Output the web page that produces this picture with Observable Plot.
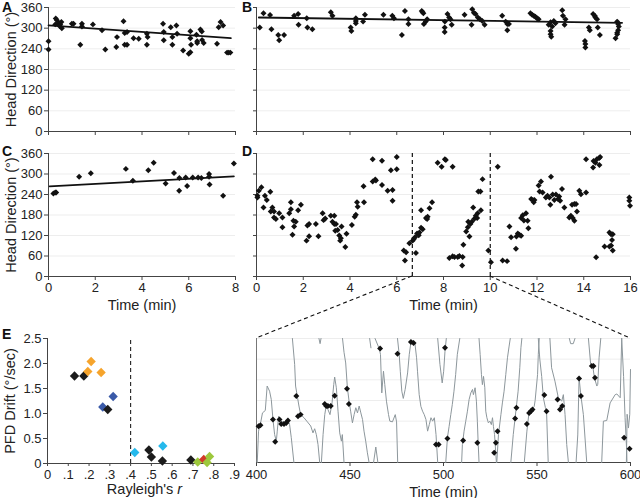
<!DOCTYPE html>
<html><head><meta charset="utf-8">
<script src="https://cdn.jsdelivr.net/npm/d3@7"></script>
<script src="https://cdn.jsdelivr.net/npm/@observablehq/plot@0.6"></script>
<style>
body{margin:0;background:#fff;}
#root{position:relative;width:640px;height:498px;overflow:hidden;font-family:"Liberation Sans",Arial,sans-serif;}
#root svg{position:absolute;overflow:visible;}
</style></head><body><div id="root"></div>
<script>
// ---------- DATA ----------
// Panel A (time min, head direction deg)
const aTime = [0,0,0.31,0.36,0.43,0.5,0.47,0.57,0.29,0.55,1.0,1.07,1.36,1.43,1.43,1.9,2.29,2.43,2.9,2.93,3.21,3.26,3.36,3.26,3.36,3.64,3.86,4.21,4.24,4.21,4.9,4.93,4.93,5.23,5.3,5.3,5.47,5.5,5.76,6.0,6.07,6.07,6.07,6.1,6.33,6.36,6.36,6.5,6.56,6.57,6.64,7.21,7.28,7.36,7.47,7.64,7.78,7.71];
const aDir  = [262,238,328,323,315,311,306,300,311,318,313,313,252,313,305,311,294,238,245,274,320,286,289,252,252,271,269,284,274,252,313,289,265,303,274,252,308,284,235,226,230,291,271,252,281,257,262,296,290,266,257,255,303,318,308,229,229,229];
const aFitT = [0, 7.8], aFitV = [308, 271];
// Panel B
const bTime = [0.14,0.3,0.58,0.64,0.93,0.97,1.18,1.61,1.78,1.8,2.15,2.18,2.39,3.18,3.25,4.03,4.06,4.25,4.25,4.25,4.56,4.64,5.43,5.81,5.88,6.22,6.35,6.5,6.5,7.07,7.14,7.1,7.16,7.24,7.3,8.06,8.05,8.05,8.17,8.24,8.3,8.35,8.9,9.2,9.23,9.3,9.37,9.47,9.56,9.66,9.76,10.51,10.66,10.73,10.8,10.73,11.72,11.79,11.86,11.93,12.0,12.07,12.5,12.58,12.65,12.72,12.79,12.58,12.58,12.61,13.08,13.11,13.22,13.18,14.05,14.07,14.07,14.22,14.26,14.4,14.47,14.5,14.57,14.6,14.69,15.36,15.43,15.47,15.5,15.47,15.43,15.43];
const bDir  = [302,343,338,297,280,265,280,336,341,310,329,302,297,346,336,302,292,329,321,314,319,339,339,336,329,280,350,326,312,350,343,347,312,319,326,319,302,289,341,331,326,310,339,310,355,345,341,331,326,321,310,336,319,312,312,294,343,339,336,333,329,326,310,317,305,321,314,292,282,275,352,336,326,310,263,254,244,302,294,341,336,331,326,302,280,271,319,312,305,294,287,282];
const bFitT = [0.1, 15.64], bFitV = [331, 315.5];
// Panel C
const cTime = [0.21,0.29,0.33,1.31,1.81,3.31,3.61,4.27,4.5,5.01,5.37,5.6,5.59,5.87,5.93,6.17,6.4,6.54,6.87,6.87,6.89,7.47,7.93];
const cDir  = [243,246,246,292,302,315,280,311,333,272,303,288,251,290,265,290,290,288,300,292,269,236,331];
const cFitT = [0.05, 7.93], cFitV = [264, 293];
// Panel D
const dTime = [0.04,0.04,0.1,0.21,0.3,0.36,0.44,0.59,0.61,0.68,0.75,0.75,0.83,0.97,1.11,1.11,1.4,1.47,1.47,1.54,1.58,1.61,1.68,1.78,1.9,2.14,2.18,2.25,2.25,2.54,2.65,2.83,2.87,2.94,3.18,3.33,3.25,3.33,3.4,3.37,3.47,3.54,3.58,3.61,3.64,3.8,3.85,4.08,4.2,4.25,4.3,4.33,4.6,4.58,4.97,4.97,5.08,5.11,5.37,5.37,5.61,5.82,5.82,5.75,6.0,6.0,6.3,6.35,6.4,6.54,6.68,6.73,6.78,6.82,6.87,6.94,6.97,7.04,7.11,7.04,7.25,7.3,7.32,7.4,7.51,7.75,7.92,8.06,8.1,8.39,8.25,8.39,8.47,8.61,8.68,8.8,8.82,8.85,8.97,9.04,9.11,9.06,9.15,9.21,9.27,9.32,9.38,9.44,9.46,9.49,9.58,9.6,9.67,9.92,10.03,10.32,10.53,10.72,10.82,10.89,11.1,11.12,11.18,11.25,11.32,11.32,11.39,11.44,11.53,11.6,11.63,11.75,11.82,11.89,11.86,12.07,12.17,12.11,12.24,12.6,12.38,12.45,12.53,12.57,12.74,12.67,12.81,12.95,12.9,12.99,13.07,13.17,13.38,13.45,13.53,13.6,13.5,13.6,13.67,13.71,13.81,13.88,14.1,14.1,14.4,14.42,14.56,14.66,14.7,14.5,14.67,14.53,14.89,15.1,15.17,15.24,15.1,15.17,15.24,15.21,15.95,15.95,15.98];
const dDir  = [236,231,251,261,202,236,224,248,190,202,190,173,168,185,173,144,185,217,197,122,163,146,160,194,210,105,149,154,118,154,118,185,165,170,178,178,160,154,154,134,136,120,105,112,146,86,125,151,175,181,217,204,217,264,278,343,284,281,339,268,251,253,222,311,350,314,76,47,71,97,105,110,115,69,126,121,129,143,138,194,171,168,175,200,217,333,321,343,341,321,54,59,57,57,60,32,57,93,132,144,117,160,154,160,202,169,178,171,185,249,249,194,285,76,42,321,47,45,146,115,81,117,126,122,119,171,179,164,185,163,141,227,224,224,217,266,278,249,246,292,231,236,231,210,224,240,240,234,227,222,256,202,173,178,171,163,210,212,212,190,251,241,246,343,319,338,343,347,350,333,326,56,88,88,91,76,129,124,124,107,231,222,207];
const zoomStart = 400, zoomEnd = 600; // seconds shown in the enlarged panel (= 6.67 and 10 min)
// Enlarged panel: black diamonds
const zTime = [401.1,402.1,408.8,410,412.3,413.2,414.7,415.9,416.8,421.3,422.2,423.6,436.5,437.3,438.2,439.7,441.8,448.4,449.4,466.1,475.4,482.6,484,496,497.4,500.8,502.1,510.5,518.1,527.1,528,528.9,538.3,539,544.6,545.8,546.7,547.6,553.9,555.1,561,562.3,563.5,572.5,573.5,579.3,580.2,581,596.6,599.5];
const zDir  = [105,108,125,60,125,112,112,115,122,193,134,139,170,164,164,164,194,214,170,331,316,350,347,52,52,333,70,64,57,28,57,91,128,159,112,144,149,154,196,149,183,154,164,244,193,280,280,246,72,40];
// Enlarged panel: grey continuous trace (null = wrap break)
const traceT = [400.4,401.1,402.2,403.2,404.7,405.7,407,407.9,408.8,409.7,410.6,411.1,411.8,413.2,415,416.8,417.7,418.6,420,null,
 419.2,420.4,420.9,421.8,422.7,423.6,425.4,427.2,429,430.2,431.1,432,432.9,433.8,null,
 433.4,434,434.5,null,
 434.7,435.6,436.5,437.3,438.2,439.3,440.4,441.3,441.8,442.7,443.6,444.5,445.4,445.9,446.8,null,
 446,446.8,447.7,448.6,449.5,450.4,451.3,452.2,453.1,454,454.9,455.8,456.7,457.5,458.4,459.3,460.2,null,
 460.5,461.2,null,
 462.6,463.8,464.9,null,
 463.4,465.6,466.3,467,467.9,468.6,469.5,470.6,471.3,472.7,474.2,474.9,475.5,null,
 475.4,476.3,476.9,477.7,478.5,479.5,480.8,481.7,482.6,483.8,484.7,485.6,486.1,487,487.9,488.8,489.7,490.6,491.5,492.4,493.3,494.2,495.1,496,496.9,null,
 496.9,498.1,499.3,500.1,500.8,501.5,null,
 501.2,502.1,503,503.9,504.7,505.6,506.5,507.4,508.7,null,
 509.7,510.1,511,511.9,512.8,513.7,514.6,515.5,516,516.9,517.6,518.1,518.5,519,null,
 519,519.6,520.3,520.8,521.4,522.1,522.6,523.2,524,524.8,525.6,526.2,526.7,527.3,528,528.3,null,
 528.5,529.4,530.7,531.5,532.4,533.3,534.2,535.1,535.7,null,
 536,537.3,538.3,539,539.9,540.8,541.4,541.9,null,
 543.2,544.6,545.6,546.7,548.5,549,550.3,550.7,551.2,null,
 550.7,551.5,552.5,553.4,554.5,555.1,556,null,
 556.9,557.8,559.6,561.4,563.2,564.1,565,565.9,566.8,null,
 567.3,568,569.4,570.3,null,
 570.9,571.8,572.5,573.5,574.8,576.6,null,
 577.5,578.7,579.8,580.7,582,582.5,583.2,584.1,null,
 584.6,585.5,587.3,589.1,591.8,592.7,594.5,595.3,null,
 595.3,596.3,597.1,598,598.1,null,
 597.8,598.2,598.9,599.6,600];
const traceV = [0,91,115,144,151,222,207,183,125,81,62,91,134,118,118,125,110,72,0,null,
 360,285,222,193,164,139,130,118,106,86,98,81,52,0,null,
 360,345,360,null,
 0,81,139,166,154,139,173,226,248,217,149,86,62,81,0,null,
 360,320,289,217,178,147,115,139,159,144,164,144,125,91,62,28,0,null,
 360,333,null,
 0,45,0,null,
 360,331,314,202,265,226,178,139,120,118,139,118,0,null,
 360,314,265,207,186,212,260,314,350,354,347,304,265,197,163,149,139,125,91,110,130,120,130,81,0,null,
 360,285,231,265,323,360,null,
 0,72,105,139,168,207,255,314,360,null,
 0,52,91,120,149,183,202,212,197,217,178,120,62,0,null,
 360,314,255,226,250,217,149,130,115,120,110,130,105,81,23,0,null,
 0,81,139,173,207,255,304,338,360,null,
 0,81,130,164,207,275,333,360,null,
 0,91,139,149,163,180,255,314,360,null,
 360,300,250,188,159,149,0,null,
 360,275,236,188,178,197,139,52,0,null,
 360,345,345,360,null,
 0,80,246,193,139,0,null,
 360,285,280,246,222,227,304,360,null,
 0,120,122,173,197,199,188,360,null,
 360,250,130,30,0,null,
 0,140,100,140,270];
// Panel E
const eR     = [0.13,0.175,0.194,0.21,0.258,0.266,0.29,0.316,0.42,0.488,0.5,0.555,0.553,0.69,0.723,0.752,0.768,0.78];
const eDrift = [1.75,1.75,1.84,2.04,1.82,1.13,1.08,1.34,0.22,0.27,0.13,0.35,0.05,0.07,0.03,0.08,0.02,0.14];
const eGroup = ["k","k","o","o","o","b","k","b","c","k","k","c","k","k","g","r","g","g"];
const groupColors = {k:"#1b1b1b", o:"#f6a42c", b:"#3a5aa8", c:"#25b9ec", r:"#d23a2a", g:"#9dc83c"};
const rThreshold = 0.4;
const degTicks = [0,60,120,180,240,300,360];

// ---------- HELPERS ----------
const FONT = '"Liberation Sans", Arial, Helvetica, sans-serif';
const root = document.getElementById("root");
function place(svg, left, top){ svg.style.left = left+"px"; svg.style.top = top+"px"; root.appendChild(svg); return svg; }
const baseStyle = {fontFamily: FONT, fontSize: "13px", color: "#222", background: "transparent", overflow: "visible"};
const pts = (t, v) => t.map((d,i) => ({t: d, v: v[i]}));
const grid = Plot.gridY(degTicks.slice(1), {stroke: "#000", strokeOpacity: 0.07});
const dot = (data) => Plot.dot(data, {x: "t", y: "v", symbol: "diamond2", r: 2.7, fill: "#111", stroke: "none"});
const fit = (t, v) => Plot.line(pts(t, v), {x: "t", y: "v", stroke: "#111", strokeWidth: 1.8});
const axisLines = (x0, y0) => [Plot.ruleX([x0], {stroke: "#444"}), Plot.ruleY([y0], {stroke: "#444"})];
const yTitle = (label, dx) => Plot.text([label], {frameAnchor: "left", textAnchor: "middle", rotate: -90, dx: dx, fontSize: 14.5, fill: "#222"});
const xTitle = (label, dy) => Plot.text([label], {frameAnchor: "bottom", textAnchor: "middle", dy: dy, fontSize: 14.5, fill: "#222", lineAnchor: "bottom"});

// ---------- PANEL A ----------
const plotA = Plot.plot({
  width: 240, height: 145, marginLeft: 48, marginRight: 5, marginTop: 7, marginBottom: 14, style: baseStyle,
  x: {domain: [0, 8]}, y: {domain: [0, 360]},
  marks: [
    grid,
    Plot.axisY(degTicks, {tickSize: 4, tickPadding: 2, label: null, stroke: "#444"}),
    Plot.axisX([0,2,4,6,8], {tickSize: 4, tickFormat: () => "", label: null, stroke: "#444"}),
    ...axisLines(0, 0),
    yTitle("Head Direction (°)", -37),
    fit(aFitT, aFitV),
    dot(pts(aTime, aDir))
  ]
});
place(plotA, 0, 0);

// ---------- PANEL B ----------
const plotB = Plot.plot({
  width: 400, height: 145, marginLeft: 16, marginRight: 10, marginTop: 7, marginBottom: 14, style: baseStyle,
  x: {domain: [0, 16]}, y: {domain: [0, 360]},
  marks: [
    grid,
    Plot.axisY(degTicks, {tickSize: 3, tickFormat: () => "", label: null, stroke: "#444"}),
    Plot.axisX(d3.range(0, 17, 2), {tickSize: 4, tickFormat: () => "", label: null, stroke: "#444"}),
    ...axisLines(0, 0),
    fit(bFitT, bFitV),
    dot(pts(bTime, bDir))
  ]
});
place(plotB, 240, 0);

// ---------- PANEL C ----------
const plotC = Plot.plot({
  width: 240, height: 170, marginLeft: 48, marginRight: 5, marginTop: 13, marginBottom: 34, style: baseStyle,
  x: {domain: [0, 8]}, y: {domain: [0, 360]},
  marks: [
    grid,
    Plot.axisY(degTicks, {tickSize: 4, tickPadding: 2, label: null, stroke: "#444"}),
    Plot.axisX([0,2,4,6,8], {tickSize: 4, tickPadding: 2, label: null, stroke: "#444"}),
    ...axisLines(0, 0),
    yTitle("Head Direction (°)", -37),
    xTitle("Time (min)", 33),
    fit(cFitT, cFitV),
    dot(pts(cTime, cDir))
  ]
});
place(plotC, 0, 140);

// ---------- PANEL D ----------
const plotD = Plot.plot({
  width: 400, height: 170, marginLeft: 16, marginRight: 10, marginTop: 13, marginBottom: 34, style: baseStyle,
  x: {domain: [0, 16]}, y: {domain: [0, 360]},
  marks: [
    grid,
    Plot.axisY(degTicks, {tickSize: 3, tickFormat: () => "", label: null, stroke: "#444"}),
    Plot.axisX(d3.range(0, 17, 2), {tickSize: 4, tickPadding: 2, label: null, stroke: "#444"}),
    ...axisLines(0, 0),
    Plot.ruleX([zoomStart / 60, zoomEnd / 60], {y1: 0, y2: 360, stroke: "#111", strokeDasharray: "4,3", strokeWidth: 1.2}),
    xTitle("Time (min)", 33),
    dot(pts(dTime, dDir))
  ]
});
place(plotD, 240, 140);

// ---------- ENLARGED PANEL ----------
const plotZ = Plot.plot({
  width: 400, height: 168, marginLeft: 16, marginRight: 10, marginTop: 8, marginBottom: 36, style: baseStyle,
  x: {domain: [zoomStart, zoomEnd]}, y: {domain: [0, 360], axis: null},
  marks: [
    grid,
    Plot.axisX([400, 450, 500, 550, 600], {tickSize: 4, tickPadding: 3, label: null, stroke: "#444"}),
    Plot.ruleX([zoomStart], {stroke: "#777"}),
    Plot.ruleY([0], {stroke: "#444"}),
    Plot.line(traceT.map((t, i) => ({t, v: traceV[i]})), {x: "t", y: "v", stroke: "#8d979c", strokeWidth: 1}),
    xTitle("Time (min)", 34),
    dot(pts(zTime, zDir))
  ]
});
place(plotZ, 240, 330);

// ---------- PANEL E ----------
const plotE = Plot.plot({
  width: 240, height: 168, marginLeft: 47, marginRight: 6, marginTop: 8, marginBottom: 35, style: baseStyle,
  x: {domain: [0, 0.9]}, y: {domain: [0, 2.5]},
  marks: [
    Plot.axisY([0, 0.5, 1, 1.5, 2, 2.5], {tickSize: 4, tickPadding: 2, label: null, stroke: "#444",
      tickFormat: d => d === 0 ? "0" : d.toFixed(1)}),
    Plot.axisX(d3.range(0, 10).map(i => i / 10), {tickSize: 3, tickPadding: 3, label: null, stroke: "#444",
      tickFormat: d => d === 0 ? "0" : d.toFixed(1).replace(/^0/, "")}),
    ...axisLines(0, 0),
    Plot.ruleX([rThreshold], {y1: 0, y2: 2.5, stroke: "#222", strokeDasharray: "4,3", strokeWidth: 1.1}),
    yTitle("PFD Drift (°/sec)", -37),
    Plot.dot(eR.map((r, i) => ({r, d: eDrift[i], g: eGroup[i]})), {
      x: "r", y: "d", symbol: "diamond2", r: 4.2, fill: d => groupColors[d.g], stroke: "none"})
  ]
});
place(plotE, 0, 330);

// ---------- OVERLAY: connectors, panel letters, italic axis title ----------
const ov = d3.create("svg").attr("width", 640).attr("height", 498)
  .style("left", "0px").style("top", "0px").style("pointer-events", "none")
  .style("font-family", FONT);
const xD = plotD.scale("x"), yD = plotD.scale("y"), xZ = plotZ.scale("x"), yZ = plotZ.scale("y");
[zoomStart, zoomEnd].forEach(s => {
  ov.append("line")
    .attr("x1", 240 + xD.apply(s / 60)).attr("y1", 140 + yD.apply(0))
    .attr("x2", 240 + xZ.apply(s)).attr("y2", 330 + yZ.apply(360))
    .attr("stroke", "#111").attr("stroke-width", 1.1).attr("stroke-dasharray", "4,3");
});
const letters = [["A", 2, 12], ["B", 242, 12], ["C", 2, 156], ["D", 242, 156], ["E", 2, 339]];
letters.forEach(([t, x, y]) => ov.append("text").attr("x", x).attr("y", y).attr("font-size", 14)
  .attr("font-weight", "bold").attr("fill", "#111").text(t));
const xE = plotE.scale("x");
const rt = ov.append("text").attr("x", (xE.apply(0) + xE.apply(0.9)) / 2 + 4).attr("y", 494)
  .attr("text-anchor", "middle").attr("font-size", 14.5).attr("fill", "#222");
rt.append("tspan").text("Rayleigh's ");
rt.append("tspan").attr("font-style", "italic").text("r");
root.appendChild(ov.node());
</script></body></html>
